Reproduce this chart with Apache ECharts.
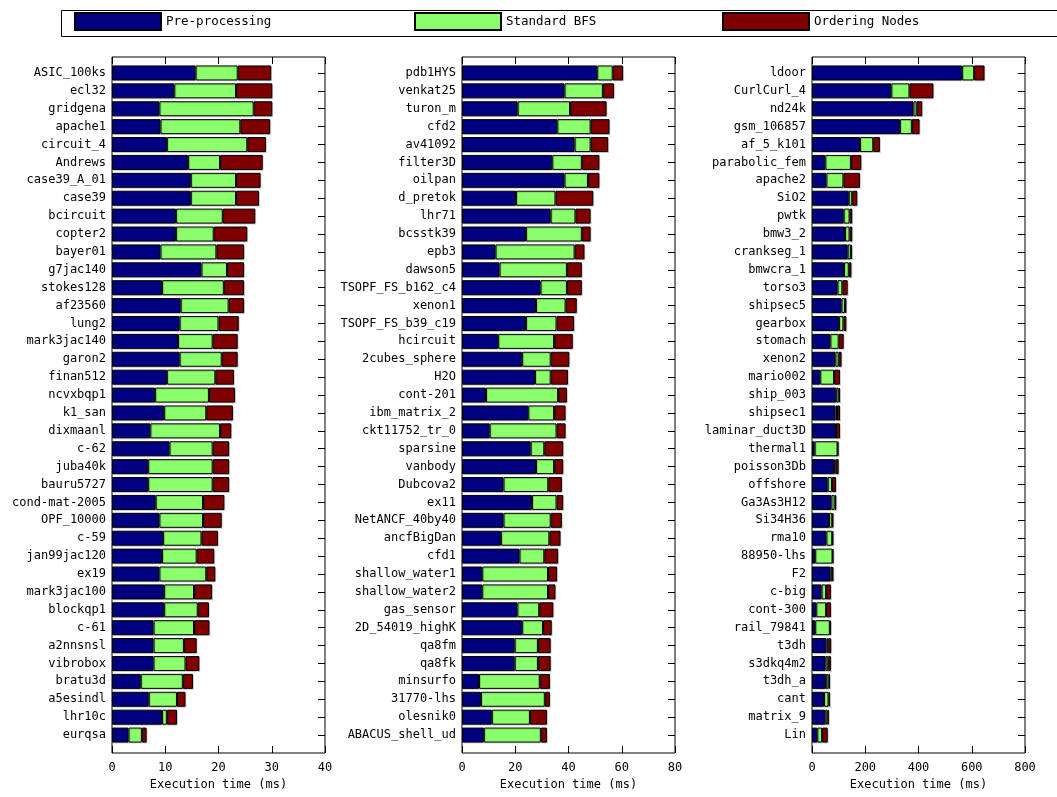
<!DOCTYPE html>
<html>
<head>
<meta charset="utf-8">
<script src="https://cdn.jsdelivr.net/npm/echarts@6/dist/echarts.min.js"></script>
<style>
  html, body { margin: 0; padding: 0; background: #fff; }
  #chart { width: 1057px; height: 797px; }
</style>
</head>
<body>
<div id="chart"></div>
<script>
// Execution time breakdown (ms) per matrix, split into three panels by scale.
const seriesNames = ['Pre-processing', 'Standard BFS', 'Ordering Nodes'];

// Panel 1 (0 - 40 ms)
const catsA = ['ASIC_100ks','ecl32','gridgena','apache1','circuit_4','Andrews','case39_A_01','case39','bcircuit','copter2','bayer01','g7jac140','stokes128','af23560','lung2','mark3jac140','garon2','finan512','ncvxbqp1','k1_san','dixmaanl','c-62','juba40k','bauru5727','cond-mat-2005','OPF_10000','c-59','jan99jac120','ex19','mark3jac100','blockqp1','c-61','a2nnsnsl','vibrobox','bratu3d','a5esindl','lhr10c','eurqsa'];
const preA = [15.7,11.7,8.9,9.1,10.3,14.3,14.8,14.8,12.0,12.0,9.1,16.8,9.4,12.9,12.7,12.4,12.7,10.3,8.1,9.8,7.2,10.8,6.8,6.8,8.2,8.9,9.6,9.4,8.9,9.8,9.8,7.8,7.8,7.8,5.4,6.9,9.4,3.1];
const bfsA = [7.9,11.6,17.7,15.0,15.1,6.0,8.5,8.5,8.8,7.1,10.5,4.8,11.6,9.0,7.3,6.5,7.9,9.1,10.1,7.9,13.1,8.1,12.1,12.1,8.9,8.2,7.2,6.5,8.8,5.6,6.3,7.6,5.7,6.0,7.9,5.3,0.9,2.5];
const ordA = [6.3,6.8,3.5,5.6,3.5,8.0,4.6,4.3,6.1,6.3,5.2,3.2,3.8,2.9,3.8,4.7,3.0,3.5,4.9,5.0,2.1,3.1,3.1,3.1,4.0,3.5,3.1,3.3,1.7,3.4,2.1,2.9,2.4,2.6,1.9,1.6,1.9,0.9];

// Panel 2 (0 - 80 ms)
const catsB = ['pdb1HYS','venkat25','turon_m','cfd2','av41092','filter3D','oilpan','d_pretok','lhr71','bcsstk39','epb3','dawson5','TSOPF_FS_b162_c4','xenon1','TSOPF_FS_b39_c19','hcircuit','2cubes_sphere','H2O','cont-201','ibm_matrix_2','ckt11752_tr_0','sparsine','vanbody','Dubcova2','ex11','NetANCF_40by40','ancfBigDan','cfd1','shallow_water1','shallow_water2','gas_sensor','2D_54019_highK','qa8fm','qa8fk','minsurfo','31770-lhs','olesnik0','ABACUS_shell_ud'];
const preB = [50.8,38.5,20.9,35.8,42.3,33.9,38.5,20.3,33.3,24.0,12.6,14.1,29.5,27.8,24.0,13.6,22.6,27.4,9.0,24.9,10.4,25.8,27.8,15.6,26.3,15.6,14.6,21.6,7.6,7.6,20.8,22.6,19.8,19.8,6.4,7.1,11.2,8.2];
const bfsB = [5.8,14.4,19.7,12.5,6.0,11.1,8.8,14.8,9.3,21.0,29.7,25.3,9.9,11.1,11.5,21.0,10.7,5.9,27.1,9.7,25.1,5.1,6.8,16.8,9.2,17.7,18.2,9.3,24.7,24.7,8.2,7.8,8.7,8.7,22.8,24.0,14.3,21.4];
const ordB = [3.9,4.2,13.7,7.1,6.6,6.6,4.3,14.2,5.7,3.3,3.7,5.6,5.6,4.2,6.6,7.0,7.0,6.5,3.3,4.3,3.4,7.1,3.4,5.1,2.5,4.2,4.2,5.2,3.4,2.8,5.3,3.3,4.8,4.8,3.8,1.9,6.4,2.3];

// Panel 3 (0 - 800 ms)
const catsC = ['ldoor','CurlCurl_4','nd24k','gsm_106857','af_5_k101','parabolic_fem','apache2','SiO2','pwtk','bmw3_2','crankseg_1','bmwcra_1','torso3','shipsec5','gearbox','stomach','xenon2','mario002','ship_003','shipsec1','laminar_duct3D','thermal1','poisson3Db','offshore','Ga3As3H12','Si34H36','rma10','88950-lhs','F2','c-big','cont-300','rail_79841','t3dh','s3dkq4m2','t3dh_a','cant','matrix_9','Lin'];
const preC = [564,298,381,330,180,50,54,138,119,124,134,120,96,111,101,69,88,31,91,88,89,10,83,59,73,64,54,12,69,36,16,12,54,51,52,45,50,20];
const bfsC = [45,68,12,45,50,96,64,13,22,17,12,18,18,13,17,31,12,52,9,6,1,86,6,16,12,12,22,65,7,17,37,55,7,10,10,17,8,18];
const ordC = [39,90,21,29,25,39,62,19,10,10,4,10,20,5,11,19,11,22,5,11,15,3,11,15,6,4,4,3,4,18,18,4,11,10,5,5,5,21];

const xMax = [40, 80, 800];
const xStep = [10, 20, 200];
const tickLabels = [
  ['0','10','20','30','40'],
  ['0','20','40','60','80'],
  ['0','200','400','600','800']
];

const colors = ['#000080', '#8cff6c', '#800000'];
const FONT = 'DejaVu Sans Mono';

const panels = [
  { cats: catsA, vals: [preA, bfsA, ordA], left: 112 },
  { cats: catsB, vals: [preB, bfsB, ordB], left: 462 },
  { cats: catsC, vals: [preC, bfsC, ordC], left: 812 }
];
const panelWidth = 213;

const grid = [], xAxis = [], yAxis = [], series = [];

panels.forEach((p, i) => {
  // data grid (bar band area) and frame grid (border + value axes)
  grid.push({ left: p.left, width: panelWidth, top: 64, bottom: 53, containLabel: false });
  grid.push({ left: p.left, width: panelWidth, top: 57, bottom: 44, containLabel: false,
              show: true, borderColor: '#000', borderWidth: 1, backgroundColor: 'transparent' });
  const gData = 2 * i, gFrame = 2 * i + 1;

  // x axes
  xAxis.push({ type: 'value', gridIndex: gData, min: 0, max: xMax[i], interval: xStep[i], show: false });
  xAxis.push({
    type: 'value', gridIndex: gFrame, min: 0, max: xMax[i], interval: xStep[i], position: 'bottom',
    axisLine: { show: false },
    axisTick: { show: true, inside: true, length: 7, lineStyle: { color: '#000' } },
    splitLine: { show: false },
    axisLabel: {
      margin: 9, color: '#000', fontFamily: FONT, fontSize: 12,
      formatter: v => tickLabels[i][Math.round(v / xStep[i])]
    },
    name: 'Execution time (ms)', nameLocation: 'middle', nameGap: 25,
    nameTextStyle: { color: '#000', fontFamily: FONT, fontSize: 12 }
  });
  xAxis.push({
    type: 'value', gridIndex: gFrame, min: 0, max: xMax[i], interval: xStep[i], position: 'top',
    axisLine: { show: false },
    axisTick: { show: true, inside: true, length: 7, lineStyle: { color: '#000' } },
    axisLabel: { show: false }, splitLine: { show: false }
  });

  // y axes
  yAxis.push({
    type: 'category', gridIndex: gData, data: p.cats, inverse: true, position: 'left',
    axisLine: { show: false }, axisTick: { show: false },
    axisLabel: { margin: 6, color: '#000', fontFamily: FONT, fontSize: 12, interval: 0 }
  });
  yAxis.push({
    type: 'category', gridIndex: gData, data: p.cats, inverse: true, position: 'right',
    axisLine: { show: false },
    axisTick: { show: true, inside: true, alignWithLabel: true, length: 7, interval: 0, lineStyle: { color: '#000' } },
    axisLabel: { show: false }
  });
  yAxis.push({ type: 'value', gridIndex: gFrame, show: false, min: 0, max: 1 });

  seriesNames.forEach((name, s) => {
    series.push({
      type: 'bar', name, stack: 'p' + i,
      xAxisIndex: 3 * i, yAxisIndex: 3 * i,
      data: p.vals[s],
      barWidth: 15,
      itemStyle: {
        color: colors[s], borderColor: '#000', borderWidth: 1,
        shadowColor: 'rgba(0,0,0,0.15)', shadowOffsetX: 1, shadowOffsetY: 1, shadowBlur: 0
      },
      emphasis: { disabled: true },
      animation: false
    });
  });
});

const legendPos = [74, 414, 722];
const legend = seriesNames.map((name, k) => ({
  data: [name], left: legendPos[k], top: 12, padding: 0,
  itemWidth: 86, itemHeight: 17, itemGap: 5, icon: 'rect',
  textStyle: { color: '#000', fontFamily: FONT, fontSize: 12.5 },
  selectedMode: false
}));

const chart = echarts.init(document.getElementById('chart'), null, { renderer: 'canvas' });
chart.setOption({
  animation: false,
  backgroundColor: '#fff',
  grid, xAxis, yAxis, series, legend,
  graphic: [{
    type: 'rect', left: 59, top: 8, silent: true,
    shape: { width: 1010, height: 26 },
    style: { fill: 'none', stroke: '#000', lineWidth: 1 }
  }]
});
</script>
</body>
</html>
